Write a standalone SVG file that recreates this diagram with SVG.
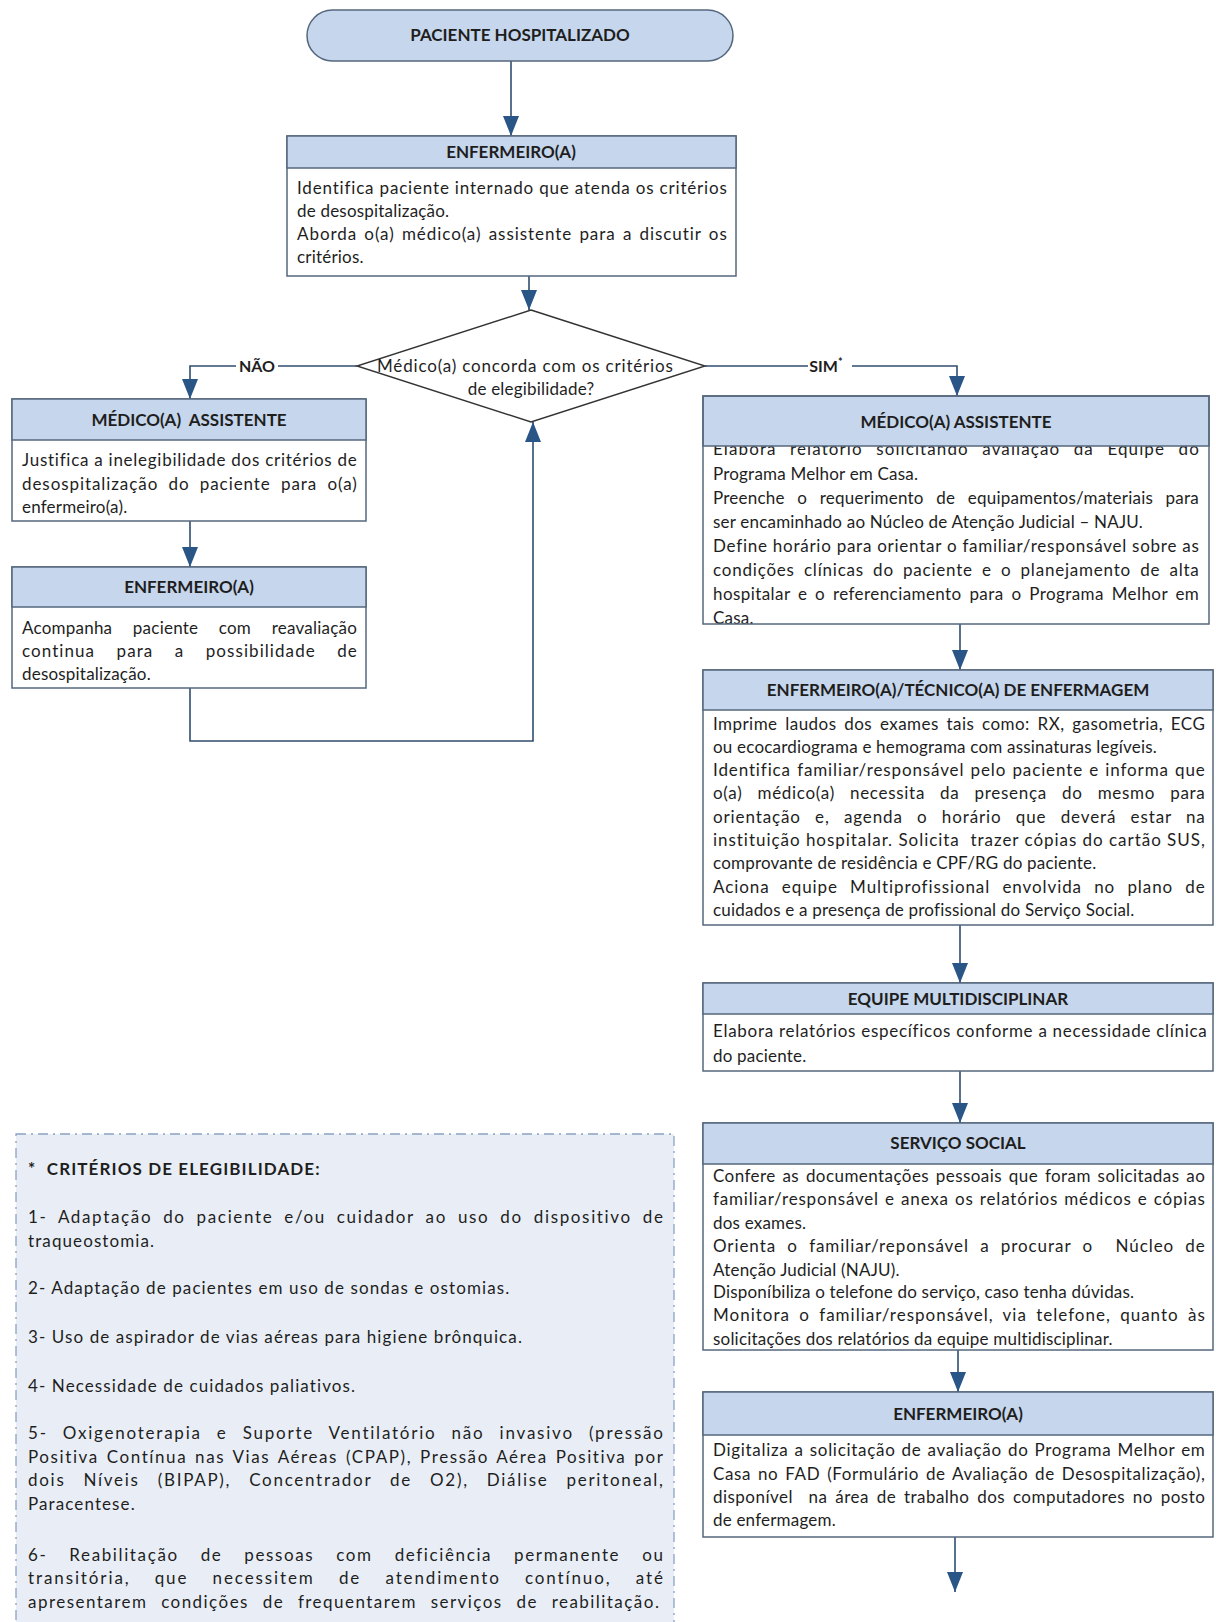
<svg xmlns="http://www.w3.org/2000/svg" width="1216" height="1622" viewBox="0 0 1216 1622">
<defs>
<style>
.box{fill:#ffffff;stroke:#55677d;stroke-width:1.5}
.hdr{fill:#c6d6ec;stroke:#55677d;stroke-width:1.5}
.frame{fill:none;stroke:#55677d;stroke-width:1.5}
.h{font-family:Lato,"Liberation Sans",sans-serif;font-weight:bold;font-size:17px;fill:#1e1e1e;text-anchor:middle}
.t{font-family:Lato,"Liberation Sans",sans-serif;font-size:17px;letter-spacing:0.2px;fill:#1e1e1e}
.c{font-family:Lato,"Liberation Sans",sans-serif;font-size:17px;letter-spacing:1.1px;fill:#1e1e1e}
.lbl{font-family:Lato,"Liberation Sans",sans-serif;font-weight:bold;font-size:16px;fill:#1e1e1e;text-anchor:middle}
.conn{fill:none;stroke:#2f4d6e;stroke-width:1.6}
</style>
<marker id="arr" markerUnits="userSpaceOnUse" markerWidth="20" markerHeight="16" viewBox="0 0 20 16" refX="20" refY="8" orient="auto">
<path d="M0,0 L20,8 L0,16 z" fill="#2a5587"/>
</marker>
</defs>
<rect width="1216" height="1622" fill="#ffffff"/>

<g id="criterios">
<rect x="16" y="1134" width="658" height="520" fill="#e9eef6" stroke="#8ba2c2" stroke-width="1.3" stroke-dasharray="10 5 2 5"/>
<text class="c" x="28" y="1175" font-weight="bold" font-size="17.5" letter-spacing="1" xml:space="preserve">*  CRITÉRIOS DE ELEGIBILIDADE:</text>
<text class="c" x="28" y="1223" word-spacing="5" textLength="636" lengthAdjust="spacing">1- Adaptação do paciente e/ou cuidador ao uso do dispositivo de</text>
<text class="c" x="28" y="1247">traqueostomia.</text>
<text class="c" x="28" y="1294">2- Adaptação de pacientes em uso de sondas e ostomias.</text>
<text class="c" x="28" y="1343">3- Uso de aspirador de vias aéreas para higiene brônquica.</text>
<text class="c" x="28" y="1392">4- Necessidade de cuidados paliativos.</text>
<text class="c" x="28" y="1439" word-spacing="9" textLength="636" lengthAdjust="spacing">5- Oxigenoterapia e Suporte Ventilatório não invasivo (pressão</text>
<text class="c" x="28" y="1463" word-spacing="2" textLength="636" lengthAdjust="spacing">Positiva Contínua nas Vias Aéreas (CPAP), Pressão Aérea Positiva por</text>
<text class="c" x="28" y="1486" word-spacing="12" textLength="636" lengthAdjust="spacing">dois Níveis (BIPAP), Concentrador de O2), Diálise peritoneal,</text>
<text class="c" x="28" y="1510">Paracentese.</text>
<text class="c" x="28" y="1561" word-spacing="16" textLength="636" lengthAdjust="spacing">6- Reabilitação de pessoas com deficiência permanente ou</text>
<text class="c" x="28" y="1584" word-spacing="18" textLength="636" lengthAdjust="spacing">transitória, que necessitem de atendimento contínuo, até</text>
<text class="c" x="28" y="1608" word-spacing="8" textLength="632" lengthAdjust="spacing">apresentarem condições de frequentarem serviços de reabilitação.</text>
</g>

<g id="connectors">
<path class="conn" d="M511,61 V136" marker-end="url(#arr)"/>
<path class="conn" d="M529,276 V310" marker-end="url(#arr)"/>
<path class="conn" d="M357,366 H190 V399" marker-end="url(#arr)"/>
<path class="conn" d="M705,366 H957 V396" marker-end="url(#arr)"/>
<path class="conn" d="M190,521 V567" marker-end="url(#arr)"/>
<path class="conn" d="M190,688 V741 H533 V422" marker-end="url(#arr)"/>
<path class="conn" d="M960,624 V670" marker-end="url(#arr)"/>
<path class="conn" d="M960,925 V983" marker-end="url(#arr)"/>
<path class="conn" d="M960,1071 V1123" marker-end="url(#arr)"/>
<path class="conn" d="M958,1350 V1392" marker-end="url(#arr)"/>
<path class="conn" d="M955,1537 V1592" marker-end="url(#arr)"/>
<rect x="236" y="356" width="42" height="20" fill="#ffffff"/>
<text class="lbl" x="257" y="372">NÃO</text>
<rect x="808" y="356" width="44" height="20" fill="#ffffff"/>
<text class="lbl" x="826" y="372">SIM<tspan font-size="11" dy="-6">*</tspan></text>
</g>

<g id="n-paciente">
<rect x="307" y="10" width="426" height="51" rx="25.5" ry="25.5" class="hdr"/>
<text class="h" x="520" y="41" font-size="16">PACIENTE HOSPITALIZADO</text>
</g>

<g id="n-enfermeiro-1">
<rect class="box" x="287" y="136" width="449" height="140"/>
<rect class="hdr" x="287" y="136" width="449" height="32"/>
<text class="h" x="511" y="158">ENFERMEIRO(A)</text>
<text class="t" x="297" y="194" textLength="430" lengthAdjust="spacing">Identifica paciente internado que atenda os critérios</text>
<text class="t" x="297" y="217">de desospitalização.</text>
<text class="t" x="297" y="240" word-spacing="2" textLength="430" lengthAdjust="spacing">Aborda o(a) médico(a) assistente para a discutir os</text>
<text class="t" x="297" y="263">critérios.</text>
</g>

<g id="n-decisao">
<polygon points="531,310 705,366 531,422 357,366" fill="#ffffff" stroke="#333333" stroke-width="1.4"/>
<text class="t" x="525" y="372" text-anchor="middle" letter-spacing="0" textLength="296" lengthAdjust="spacing">Médico(a) concorda com os critérios</text>
<text class="t" x="531" y="395" text-anchor="middle" letter-spacing="0">de elegibilidade?</text>
</g>

<g id="n-medico-nao">
<rect class="box" x="12" y="399" width="354" height="122"/>
<rect class="hdr" x="12" y="399" width="354" height="41"/>
<text class="h" x="189" y="426" xml:space="preserve">MÉDICO(A)  ASSISTENTE</text>
<text class="t" x="22" y="466" textLength="335" lengthAdjust="spacing">Justifica a inelegibilidade dos critérios de</text>
<text class="t" x="22" y="490" word-spacing="5" textLength="335" lengthAdjust="spacing">desospitalização do paciente para o(a)</text>
<text class="t" x="22" y="513">enfermeiro(a).</text>
</g>

<g id="n-enfermeiro-nao">
<rect class="box" x="12" y="567" width="354" height="121"/>
<rect class="hdr" x="12" y="567" width="354" height="40"/>
<text class="h" x="189" y="593">ENFERMEIRO(A)</text>
<text class="t" x="22" y="634" word-spacing="16" textLength="335" lengthAdjust="spacing">Acompanha paciente com reavaliação</text>
<text class="t" x="22" y="657" word-spacing="16" textLength="335" lengthAdjust="spacing">continua para a possibilidade de</text>
<text class="t" x="22" y="680">desospitalização.</text>
</g>

<g id="n-medico-sim">
<rect x="703" y="396" width="506" height="228" fill="#ffffff"/>
<text class="t" x="713" y="455" word-spacing="8" textLength="486" lengthAdjust="spacing">Elabora relatório solicitando avaliação da Equipe do</text>
<text class="t" x="713" y="480">Programa Melhor em Casa.</text>
<text class="t" x="713" y="504" word-spacing="8" textLength="486" lengthAdjust="spacing">Preenche o requerimento de equipamentos/materiais para</text>
<text class="t" x="713" y="528">ser encaminhado ao Núcleo de Atenção Judicial – NAJU.</text>
<text class="t" x="713" y="552" textLength="486" lengthAdjust="spacing">Define horário para orientar o familiar/responsável sobre as</text>
<text class="t" x="713" y="576" word-spacing="4" textLength="486" lengthAdjust="spacing">condições clínicas do paciente e o planejamento de alta</text>
<text class="t" x="713" y="600" word-spacing="3" textLength="486" lengthAdjust="spacing">hospitalar e o referenciamento para o Programa Melhor em</text>
<text class="t" x="713" y="624">Casa.</text>
<rect class="hdr" x="703" y="396" width="506" height="50"/>
<text class="h" x="956" y="428">MÉDICO(A) ASSISTENTE</text>
<rect class="frame" x="703" y="396" width="506" height="228"/>
</g>

<g id="n-enfermeiro-tecnico">
<rect class="box" x="703" y="670" width="510" height="255"/>
<rect class="hdr" x="703" y="670" width="510" height="40"/>
<text class="h" x="958" y="696" font-size="17.5">ENFERMEIRO(A)/TÉCNICO(A) DE ENFERMAGEM</text>
<text class="t" x="713" y="730" word-spacing="3" textLength="492" lengthAdjust="spacing">Imprime laudos dos exames tais como: RX, gasometria, ECG</text>
<text class="t" x="713" y="753">ou ecocardiograma e hemograma com assinaturas legíveis.</text>
<text class="t" x="713" y="776" word-spacing="1" textLength="492" lengthAdjust="spacing">Identifica familiar/responsável pelo paciente e informa que</text>
<text class="t" x="713" y="799" word-spacing="10" textLength="492" lengthAdjust="spacing">o(a) médico(a) necessita da presença do mesmo para</text>
<text class="t" x="713" y="823" word-spacing="9" textLength="492" lengthAdjust="spacing">orientação e, agenda o horário que deverá estar na</text>
<text class="t" x="713" y="846" textLength="492" lengthAdjust="spacing" xml:space="preserve">instituição hospitalar. Solicita  trazer cópias do cartão SUS,</text>
<text class="t" x="713" y="869">comprovante de residência e CPF/RG do paciente.</text>
<text class="t" x="713" y="893" word-spacing="7" textLength="492" lengthAdjust="spacing">Aciona equipe Multiprofissional envolvida no plano de</text>
<text class="t" x="713" y="916">cuidados e a presença de profissional do Serviço Social.</text>
</g>

<g id="n-equipe">
<rect class="box" x="703" y="983" width="510" height="88"/>
<rect class="hdr" x="703" y="983" width="510" height="31"/>
<text class="h" x="958" y="1005">EQUIPE MULTIDISCIPLINAR</text>
<text class="t" x="713" y="1037" textLength="494" lengthAdjust="spacing">Elabora relatórios específicos conforme a necessidade clínica</text>
<text class="t" x="713" y="1062">do paciente.</text>
</g>

<g id="n-servico-social">
<rect class="box" x="703" y="1123" width="510" height="227"/>
<rect class="hdr" x="703" y="1123" width="510" height="41"/>
<text class="h" x="958" y="1149">SERVIÇO SOCIAL</text>
<text class="t" x="713" y="1182" word-spacing="2" textLength="492" lengthAdjust="spacing">Confere as documentações pessoais que foram solicitadas ao</text>
<text class="t" x="713" y="1205" word-spacing="1" textLength="492" lengthAdjust="spacing">familiar/responsável e anexa os relatórios médicos e cópias</text>
<text class="t" x="713" y="1229">dos exames.</text>
<text class="t" x="713" y="1252" word-spacing="6" textLength="492" lengthAdjust="spacing" xml:space="preserve">Orienta o familiar/reponsável a procurar o  Núcleo de</text>
<text class="t" x="713" y="1276">Atenção Judicial (NAJU).</text>
<text class="t" x="713" y="1298">Disponíbiliza o telefone do serviço, caso tenha dúvidas.</text>
<text class="t" x="713" y="1321" word-spacing="4" textLength="492" lengthAdjust="spacing">Monitora o familiar/responsável, via telefone, quanto às</text>
<text class="t" x="713" y="1345">solicitações dos relatórios da equipe multidisciplinar.</text>
</g>

<g id="n-enfermeiro-final">
<rect class="box" x="703" y="1392" width="510" height="145"/>
<rect class="hdr" x="703" y="1392" width="510" height="43"/>
<text class="h" x="958" y="1420">ENFERMEIRO(A)</text>
<text class="t" x="713" y="1456" word-spacing="1" textLength="492" lengthAdjust="spacing">Digitaliza a solicitação de avaliação do Programa Melhor em</text>
<text class="t" x="713" y="1480" word-spacing="2" textLength="492" lengthAdjust="spacing">Casa no FAD (Formulário de Avaliação de Desospitalização),</text>
<text class="t" x="713" y="1503" word-spacing="3" textLength="492" lengthAdjust="spacing" xml:space="preserve">disponível  na área de trabalho dos computadores no posto</text>
<text class="t" x="713" y="1526">de enfermagem.</text>
</g>
</svg>
